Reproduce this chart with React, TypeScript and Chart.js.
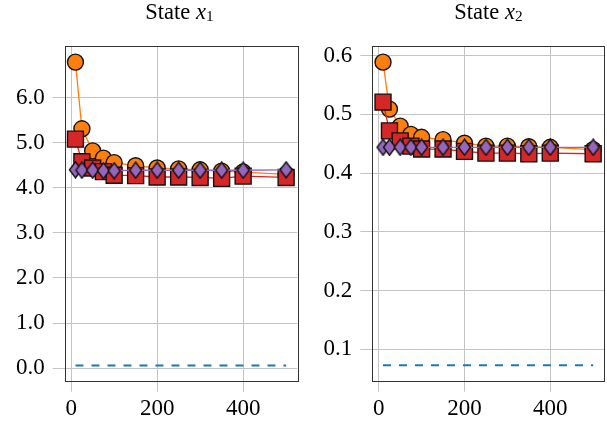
import React, { useEffect, useRef } from "react";
import { Chart, registerables } from "chart.js";
Chart.register(...registerables);

// ---- data ----
const steps = [10, 25, 50, 75, 100, 150, 200, 250, 300, 350, 400, 500];
const xTickValues = [0, 200, 400];

const x1TickValues = [0, 1, 2, 3, 4, 5, 6];
const x1Orange = [6.79, 5.31, 4.82, 4.66, 4.56, 4.49, 4.44, 4.42, 4.4, 4.37, 4.35, 4.3];
const x1Red = [5.08, 4.58, 4.44, 4.36, 4.28, 4.27, 4.24, 4.24, 4.23, 4.21, 4.26, 4.23];
const x1Purple = [4.4, 4.39, 4.39, 4.38, 4.38, 4.39, 4.39, 4.39, 4.39, 4.39, 4.39, 4.4];
const x1Blue = [0.06, 0.06, 0.06, 0.06, 0.06, 0.06, 0.06, 0.06, 0.06, 0.06, 0.06, 0.06];

const x2TickValues = [0.1, 0.2, 0.3, 0.4, 0.5, 0.6];
const x2Orange = [0.589, 0.509, 0.48, 0.466, 0.461, 0.457, 0.451, 0.446, 0.446, 0.445, 0.444, 0.44];
const x2Red = [0.521, 0.472, 0.455, 0.446, 0.441, 0.441, 0.437, 0.434, 0.434, 0.433, 0.434, 0.433];
const x2Purple = [0.444, 0.444, 0.444, 0.444, 0.444, 0.444, 0.444, 0.444, 0.444, 0.444, 0.444, 0.444];
const x2Blue = [0.073, 0.073, 0.073, 0.073, 0.073, 0.073, 0.073, 0.073, 0.073, 0.073, 0.073, 0.073];

const ORANGE = "#ff7f0e";
const RED = "#d62728";
const PURPLE = "#9467bd";
const BLUE = "#1f77b4";
const FONT = "'Liberation Serif', 'Times New Roman', serif";

function makeDiamond(): HTMLCanvasElement {
  const c = document.createElement("canvas");
  c.width = 15;
  c.height = 18;
  const ctx = c.getContext("2d")!;
  ctx.beginPath();
  ctx.moveTo(7.5, 1);
  ctx.lineTo(13.5, 9);
  ctx.lineTo(7.5, 17);
  ctx.lineTo(1.5, 9);
  ctx.closePath();
  ctx.fillStyle = PURPLE;
  ctx.fill();
  ctx.lineWidth = 1.4;
  ctx.strokeStyle = "#111";
  ctx.stroke();
  return c;
}

const framePlugin = {
  id: "frame",
  beforeDatasetsDraw(chart: any) {
    const { ctx, chartArea: a } = chart;
    ctx.save();
    ctx.strokeStyle = "#333";
    ctx.lineWidth = 1;
    ctx.strokeRect(Math.round(a.left) + 0.5, Math.round(a.top) + 0.5, Math.round(a.right - a.left), Math.round(a.bottom - a.top));
    ctx.restore();
  },
};

type PanelProps = {
  width: number;
  height: number;
  yAxisWidth: number;
  xAxisHeight: number;
  padTop: number;
  padRight: number;
  yMin: number;
  yMax: number;
  yTicks: number[];
  orange: number[];
  red: number[];
  purple: number[];
  blue: number[];
};

function Panel(p: PanelProps) {
  const ref = useRef<HTMLCanvasElement>(null);
  useEffect(() => {
    const diamond = makeDiamond();
    const mk = (vals: number[]) => steps.map((x, i) => ({ x, y: vals[i] }));
    const chart = new Chart(ref.current!, {
      type: "line",
      data: {
        datasets: [
          {
            data: mk(p.orange),
            borderColor: ORANGE,
            backgroundColor: ORANGE,
            borderWidth: 1.3,
            pointStyle: "circle",
            pointRadius: 8,
            pointBorderColor: "#111",
            pointBorderWidth: 1.4,
            pointBackgroundColor: ORANGE,
            order: 3,
          },
          {
            data: mk(p.red),
            borderColor: RED,
            backgroundColor: RED,
            borderWidth: 1.3,
            pointStyle: "rect",
            pointRadius: 11.3,
            pointBorderColor: "#111",
            pointBorderWidth: 1.4,
            pointBackgroundColor: RED,
            order: 2,
          },
          {
            data: mk(p.purple),
            borderColor: PURPLE,
            backgroundColor: PURPLE,
            borderWidth: 1.3,
            pointStyle: diamond as any,
            pointRadius: 8,
            order: 1,
          },
          {
            data: mk(p.blue),
            borderColor: BLUE,
            borderWidth: 2,
            borderDash: [8, 8],
            pointRadius: 0,
            order: 4,
          },
        ],
      },
      options: {
        animation: false,
        responsive: false,
        events: [],
        clip: false as any,
        layout: { autoPadding: false, padding: { top: p.padTop, right: p.padRight, left: 0, bottom: 0 } },
        plugins: { legend: { display: false }, tooltip: { enabled: false } },
        scales: {
          x: {
            type: "linear",
            min: -15,
            max: 526,
            afterBuildTicks: (s: any) => {
              s.ticks = xTickValues.map((v) => ({ value: v }));
            },
            afterFit: (s: any) => {
              s.height = p.xAxisHeight;
              s.paddingLeft = 0;
              s.paddingRight = 0;
              s.paddingTop = 0;
              s.paddingBottom = 0;
            },
            grid: { color: "#c4c4c4", lineWidth: 1, tickLength: 11 },
            border: { display: false },
            ticks: {
              color: "#000",
              padding: 3,
              maxRotation: 0,
              font: { family: FONT, size: 23 },
              callback: (v: any) => String(v),
            },
          },
          y: {
            type: "linear",
            min: p.yMin,
            max: p.yMax,
            afterBuildTicks: (s: any) => {
              s.ticks = p.yTicks.map((v) => ({ value: v }));
            },
            afterFit: (s: any) => {
              s.width = p.yAxisWidth;
              s.paddingLeft = 0;
              s.paddingRight = 0;
              s.paddingTop = 0;
              s.paddingBottom = 0;
            },
            grid: { color: "#c4c4c4", lineWidth: 1, tickLength: 12 },
            border: { display: false },
            ticks: {
              color: "#000",
              padding: 8,
              font: { family: FONT, size: 23 },
              callback: (v: any) => Number(v).toFixed(1),
            },
          },
        },
      },
      plugins: [framePlugin],
    });
    return () => chart.destroy();
  }, []);
  return <canvas ref={ref} width={p.width} height={p.height} style={{ display: "block", width: p.width, height: p.height }} />;
}

function Title({ center, sub }: { center: number; sub: string }) {
  return (
    <div
      style={{
        position: "absolute",
        left: center - 100,
        width: 200,
        top: 0,
        textAlign: "center",
        fontFamily: FONT,
        fontSize: 22.5,
        lineHeight: "24px",
        color: "#000",
      }}
    >
      State <i>x</i>
      <span style={{ fontSize: "0.68em", position: "relative", top: "0.15em" }}>{sub}</span>
    </div>
  );
}

export default function App() {
  return (
    <div style={{ position: "fixed", left: 0, top: 0, width: 607, height: 433, background: "#fff", overflow: "hidden" }}>
      <div style={{ position: "absolute", left: 0, top: 0 }}>
        <Panel
          width={303}
          height={433}
          yAxisWidth={64.7}
          xAxisHeight={52.3}
          padTop={46}
          padRight={5.7}
          yMin={-0.28}
          yMax={7.147}
          yTicks={x1TickValues}
          orange={x1Orange}
          red={x1Red}
          purple={x1Purple}
          blue={x1Blue}
        />
      </div>
      <div style={{ position: "absolute", left: 303, top: 0 }}>
        <Panel
          width={304}
          height={433}
          yAxisWidth={69.3}
          xAxisHeight={52.3}
          padTop={46}
          padRight={2.7}
          yMin={0.0465}
          yMax={0.6165}
          yTicks={x2TickValues}
          orange={x2Orange}
          red={x2Red}
          purple={x2Purple}
          blue={x2Blue}
        />
      </div>
      <Title center={179.5} sub="1" />
      <Title center={488.5} sub="2" />
    </div>
  );
}
